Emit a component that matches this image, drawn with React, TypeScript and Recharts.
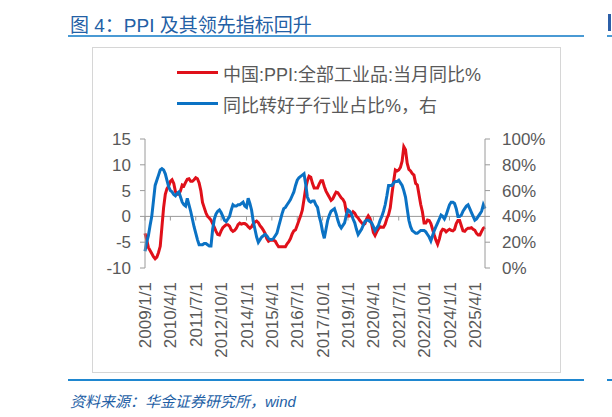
import React from 'react';
import { LineChart, Line, XAxis, YAxis, ReferenceLine, Legend } from 'recharts';

const RED = '#E0101A';
const BLUE = '#0B72C4';
const GRAY = '#595959';
const AXIS = '#9A9A9A';
const FONT = '"Liberation Sans", Arial, "Noto Sans CJK SC", sans-serif';

// monthly categories 2009/1 .. 2025/10
const months: string[] = [];
for (let y = 2009; y <= 2025; y++) {
  for (let m = 1; m <= 12; m++) {
    if (y === 2025 && m > 10) break;
    months.push(`${y}/${m}/1`);
  }
}

// 中国:PPI:全部工业品:当月同比%
const ppiYoy = [
  -3.3, -4.5, -6.0, -6.6, -7.2, -7.8, -8.2, -7.9, -7.0, -5.8, -2.1, 1.7,
  4.3, 5.4, 5.9, 6.8, 7.1, 6.4, 4.8, 4.3, 4.3, 5.0, 6.1, 5.9,
  6.6, 7.2, 7.3, 6.8, 6.8, 7.1, 7.5, 7.3, 6.5, 5.0, 2.7, 1.7,
  0.7, 0.0, -0.3, -0.7, -1.4, -2.1, -2.9, -3.5, -3.6, -2.8, -2.2, -1.9,
  -1.6, -1.6, -1.9, -2.6, -2.9, -2.7, -2.3, -1.6, -1.3, -1.5, -1.4, -1.4,
  -1.6, -2.0, -2.3, -2.0, -1.4, -1.1, -0.9, -1.2, -1.8, -2.2, -2.7, -3.3,
  -4.3, -4.8, -4.6, -4.6, -4.6, -4.8, -5.4, -5.9, -5.9, -5.9, -5.9, -5.9,
  -5.3, -4.9, -4.3, -3.4, -2.8, -2.6, -1.7, -0.8, 0.1, 1.2, 3.3, 5.5,
  6.9, 7.8, 7.6, 6.4, 5.5, 5.5, 5.5, 6.3, 6.9, 6.9, 5.8, 4.9,
  4.3, 3.7, 3.1, 3.4, 4.1, 4.7, 4.6, 4.1, 3.6, 3.3, 2.7, 0.9,
  0.1, 0.1, 0.4, 0.9, 0.6, 0.0, -0.3, -0.8, -1.2, -1.6, -1.4, -0.5,
  0.1, -0.4, -1.5, -3.1, -3.7, -3.0, -2.4, -2.0, -2.1, -2.1, -1.5, -0.4,
  0.3, 1.7, 4.4, 6.8, 9.0, 8.8, 9.0, 9.5, 10.7, 13.5, 12.9, 10.3,
  9.1, 8.8, 8.3, 8.0, 6.4, 6.1, 4.2, 2.3, 0.9, -1.3, -1.3, -0.7,
  -0.8, -1.4, -2.5, -3.6, -4.6, -5.4, -4.4, -3.0, -2.5, -2.6, -3.0, -2.7,
  -2.5, -2.7, -2.8, -2.5, -1.4, -0.8, -0.8, -1.8, -2.8, -2.9, -2.5, -2.3,
  -2.3, -2.2, -2.5, -2.7, -3.3, -3.6, -3.6, -2.9, -2.3, -2.1,
];

// 同比转好子行业占比%, right axis
const improvingShare = [
  13, 20, 25, 33, 40, 52, 64, 68, 72, 76, 77, 76,
  73, 68, 63, 60, 59, 57, 56, 58, 59, 55, 51, 49,
  48, 54, 49, 44, 38, 32, 27, 22, 18, 18, 18, 19,
  19, 18, 17, 17, 30, 38, 42, 44, 45, 43, 40, 37,
  36, 38, 40, 45, 49, 48, 48, 49, 49, 50, 51, 48,
  47, 54, 50, 45, 36, 30, 24, 20, 22, 24, 25, 26,
  25, 23, 22, 22, 23, 25, 27, 32, 37, 42, 46, 47,
  49, 51, 53, 56, 59, 64, 68, 70, 71, 72, 73, 65,
  55, 52, 51, 52, 52, 49, 47, 40, 35, 28, 23, 30,
  37, 41, 44, 45, 46, 42, 37, 33, 31, 33, 35, 41,
  45, 44, 42, 38, 35, 30, 26, 28, 30, 33, 36, 37,
  37, 36, 35, 32, 29, 31, 33, 37, 40, 44, 49, 56,
  64, 64, 64, 66, 67, 67, 68, 66, 64, 60, 55, 46,
  37, 32, 29, 28, 27, 27, 28, 29, 29, 29, 28, 26,
  24, 21, 25, 29, 32, 35, 38, 41, 40, 38, 41, 45,
  49, 51, 51, 50, 46, 40, 40, 41, 44, 46, 48, 49,
  46, 43, 40, 37, 38, 40, 42, 44, 49, 46,
];

const xTickLabels = [
  '2009/1/1', '2010/4/1', '2011/7/1', '2012/10/1', '2014/1/1', '2015/4/1', '2016/7/1',
  '2017/10/1', '2019/1/1', '2020/4/1', '2021/7/1', '2022/10/1', '2024/1/1', '2025/4/1',
];
const leftTicks = [-10, -5, 0, 5, 10, 15];
const rightTicks = [0, 20, 40, 60, 80, 100];

const data = months.map((date, i) => ({ date, ppi: ppiYoy[i], share: improvingShare[i] }));

const legendItems = [
  { label: '中国:PPI:全部工业品:当月同比%', color: RED },
  { label: '同比转好子行业占比%，右', color: BLUE },
];

const DateTick = (props: any) => {
  const { x, y, payload } = props;
  return (
    <text
      x={x}
      y={y}
      transform={`rotate(-90 ${x} ${y})`}
      textAnchor="end"
      dy="0.36em"
      fill={GRAY}
      fontSize={17}
      fontFamily={FONT}
    >
      {payload.value}
    </text>
  );
};

const LegendBox = () => (
  <div style={{ fontFamily: FONT, fontSize: 18, color: GRAY }}>
    {legendItems.map((it) => (
      <div key={it.label} style={{ display: 'flex', alignItems: 'center', height: 31 }}>
        <span style={{ width: 41, height: 3, background: it.color, marginRight: 5 }} />
        <span>{it.label}</span>
      </div>
    ))}
  </div>
);

export default function App() {
  return (
    <div style={{ position: 'absolute', left: 0, top: 0, width: 612, height: 417, background: '#fff', fontFamily: FONT }}>
      <div style={{ position: 'absolute', left: 70, top: 10, fontSize: 19, color: '#2360A5', whiteSpace: 'nowrap' }}>
        图 4：PPI 及其领先指标回升
      </div>
      <div style={{ position: 'absolute', left: 68, top: 35, width: 516, height: 2, background: '#4A9AD4' }} />
      <div style={{ position: 'absolute', left: 607, top: 35, width: 5, height: 2, background: '#4A9AD4' }} />
      <div style={{ position: 'absolute', left: 608, top: 14, width: 3, height: 17, background: '#2C5FA8' }} />

      <div style={{ position: 'absolute', left: 92, top: 47, width: 467, height: 324, border: '1px solid #D6D6D6' }} />

      <div style={{ position: 'absolute', left: 0, top: 0 }}>
        <LineChart width={612} height={417} data={data} margin={{ top: 139, left: 105, right: 67, bottom: 59 }}>
          <XAxis
            dataKey="date"
            ticks={xTickLabels}
            interval={0}
            tick={<DateTick />}
            tickLine={false}
            axisLine={false}
            tickSize={0}
            tickMargin={14}
            height={90}
          />
          <YAxis
            yAxisId="left"
            domain={[-10, 15]}
            ticks={leftTicks}
            interval={0}
            width={40}
            stroke={AXIS}
            tickSize={5}
            tickMargin={9}
            tick={{ fill: GRAY, fontSize: 17, fontFamily: FONT }}
          />
          <YAxis
            yAxisId="right"
            orientation="right"
            domain={[0, 100]}
            ticks={rightTicks}
            interval={0}
            width={60}
            stroke={AXIS}
            tickSize={5}
            tickMargin={12}
            tickFormatter={(v: number) => `${v}%`}
            tick={{ fill: GRAY, fontSize: 17, fontFamily: FONT, textAnchor: 'start' }}
          />
          <ReferenceLine yAxisId="left" y={0} stroke={AXIS} strokeWidth={1} />
          {xTickLabels.map((d) => (
            <ReferenceLine
              key={d}
              yAxisId="left"
              segment={[{ x: d, y: 0 }, { x: d, y: -0.8 }]}
              stroke={AXIS}
              strokeWidth={1}
            />
          ))}
          <Legend
            layout="vertical"
            align="center"
            verticalAlign="middle"
            content={<LegendBox />}
            wrapperStyle={{ top: 57, left: 177, width: 380 }}
          />
          <Line
            yAxisId="left"
            type="linear"
            dataKey="ppi"
            stroke={RED}
            strokeWidth={3}
            dot={false}
            isAnimationActive={false}
          />
          <Line
            yAxisId="right"
            type="linear"
            dataKey="share"
            stroke={BLUE}
            strokeWidth={3}
            dot={false}
            isAnimationActive={false}
          />
        </LineChart>
      </div>

      <div style={{ position: 'absolute', left: 68, top: 379, width: 516, height: 2, background: '#1F87D0' }} />
      <div style={{ position: 'absolute', left: 607, top: 379, width: 5, height: 2, background: '#1F87D0' }} />
      <div style={{ position: 'absolute', left: 70, top: 390, fontSize: 15, fontStyle: 'italic', color: '#2360A5', whiteSpace: 'nowrap' }}>
        资料来源：华金证券研究所，wind
      </div>
    </div>
  );
}
